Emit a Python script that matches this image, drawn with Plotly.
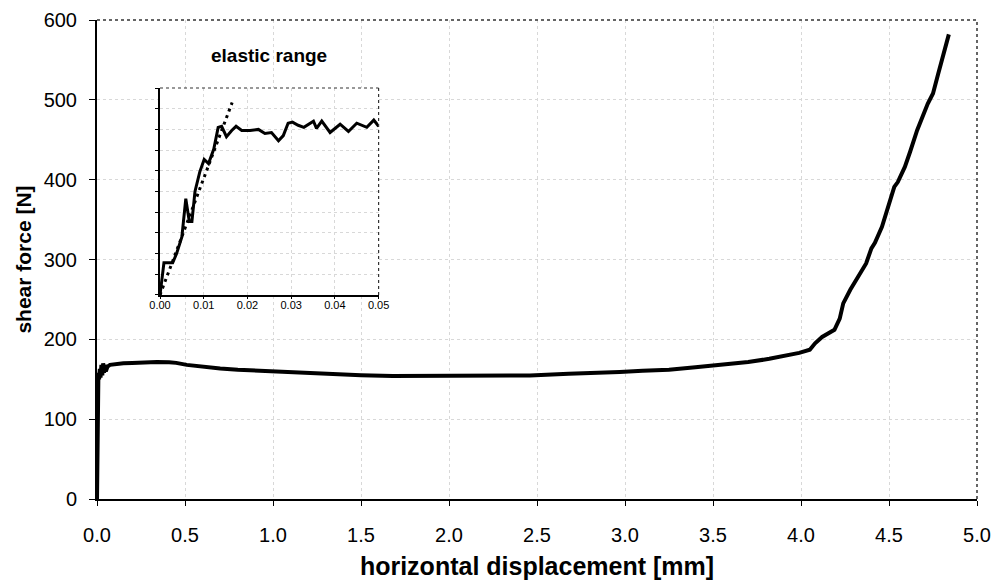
import plotly.graph_objects as go

# Main shear test curve: horizontal displacement [mm] vs shear force [N]
disp_mm = [0, 0.001, 0.003, 0.005, 0.008, 0.012, 0.016, 0.02, 0.025, 0.03, 0.035,
           0.04, 0.045, 0.05, 0.06, 0.074, 0.10, 0.15, 0.20, 0.25, 0.30, 0.34, 0.41,
           0.45, 0.51, 0.62, 0.70, 0.80, 0.90, 1.04, 1.20, 1.32, 1.50, 1.68, 1.90,
           2.08, 2.20, 2.46, 2.68, 2.80, 2.97, 3.10, 3.25, 3.40, 3.54, 3.70, 3.82,
           3.90, 3.99, 4.05, 4.08, 4.12, 4.16, 4.19, 4.22, 4.24, 4.28, 4.33, 4.37,
           4.40, 4.42, 4.46, 4.50, 4.53, 4.55, 4.59, 4.62, 4.66, 4.72, 4.75, 4.78,
           4.81, 4.84]
force_n = [0, 40, 100, 140, 158, 150, 163, 152, 168, 155, 170,
           158, 168, 160, 166, 168, 169, 170, 170.5, 171, 171.3, 171.5, 171.3,
           170.5, 168, 165, 163.5, 162, 161, 159, 157, 155.6, 155, 154, 154,
           154, 154, 154.8, 156.9, 157.5, 159, 160.5, 162, 165, 168, 171.5, 175.6,
           179, 183, 187, 195, 203, 208, 212, 226, 245, 262, 281, 295,
           314, 321, 341, 370, 391, 397, 416, 435, 462, 495, 508, 533,
           558, 582]

# Elastic range detail (inset)
el_disp = [0, 0.0004, 0.0009, 0.0029, 0.0038, 0.005, 0.0059, 0.0067, 0.0073, 0.008,
           0.0091, 0.0101, 0.0111, 0.0123, 0.0133, 0.0141, 0.0152, 0.0164, 0.0174,
           0.0187, 0.0206, 0.0225, 0.024, 0.0255, 0.0271, 0.0282, 0.0293, 0.0303,
           0.0316, 0.0329, 0.0351, 0.0358, 0.037, 0.0389, 0.0412, 0.0431, 0.045,
           0.0473, 0.0489, 0.05]
el_force = [0, 14.5, 31, 31, 40, 56, 93, 71, 71, 100,
            119, 131, 127, 141, 162, 163, 153, 159, 163,
            159, 159, 160, 156, 157, 149, 154, 166, 167,
            164, 162, 168, 161, 168, 157, 165, 158, 166,
            162, 169, 163]

# Linear elastic fit
fit_disp = [0.0, 0.0165]
fit_force = [0.0, 186.0]

x_ticks = [0, 0.5, 1.0, 1.5, 2.0, 2.5, 3.0, 3.5, 4.0, 4.5, 5.0]
y_ticks = [0, 100, 200, 300, 400, 500, 600]
inset_x_ticks = [0, 0.01, 0.02, 0.03, 0.04, 0.05]

FONT = "Liberation Sans, Arial, sans-serif"
inset_xdom = [0.0716, 0.320]
inset_ydom = [0.426, 0.858]
X_MAX, Y_MAX = 5.0, 600

fig = go.Figure()
fig.add_trace(go.Scatter(x=disp_mm, y=force_n, mode="lines",
                         line=dict(color="black", width=4), xaxis="x", yaxis="y",
                         showlegend=False, hoverinfo="skip"))
fig.add_trace(go.Scatter(x=el_disp, y=el_force, mode="lines",
                         line=dict(color="black", width=3), xaxis="x2", yaxis="y2",
                         showlegend=False, hoverinfo="skip"))
fig.add_trace(go.Scatter(x=fit_disp, y=fit_force, mode="lines",
                         line=dict(color="black", width=3, dash="3px,4px"),
                         xaxis="x2", yaxis="y2", showlegend=False, hoverinfo="skip"))

grid = dict(showgrid=True, gridcolor="#d8d8d8", gridwidth=1, griddash="dot", zeroline=False)

fig.update_layout(
    width=994, height=581,
    margin=dict(l=97, r=17, t=19.5, b=81.5),
    paper_bgcolor="white", plot_bgcolor="white",
    font=dict(family=FONT, color="black"),
    xaxis=dict(range=[0, X_MAX], tickvals=x_ticks, ticktext=[f"{v:.1f}" for v in x_ticks],
               ticks="outside", ticklen=5, tickwidth=1, tickcolor="black",
               ticklabelstandoff=12, automargin=False,
               showline=True, linecolor="black", linewidth=2,
               tickfont=dict(size=20), domain=[0, 1],
               title=dict(text="<b>horizontal displacement [mm]</b>", font=dict(size=25), standoff=12),
               **grid),
    yaxis=dict(range=[0, Y_MAX], tickvals=y_ticks,
               ticks="outside", ticklen=6, tickwidth=1, tickcolor="black",
               ticklabelstandoff=8, automargin=False,
               showline=True, linecolor="black", linewidth=2,
               tickfont=dict(size=20), domain=[0, 1],
               title=dict(text="<b>shear force [N]</b>", font=dict(size=21), standoff=6),
               **grid),
    xaxis2=dict(range=[0, 0.05], tickvals=inset_x_ticks,
                ticktext=[f"{v:.2f}" for v in inset_x_ticks],
                ticks="outside", ticklen=2, tickwidth=1, tickcolor="black",
                ticklabelstandoff=-3,
                showline=True, linecolor="black", linewidth=1.5, automargin=False,
                tickfont=dict(size=11), domain=inset_xdom, anchor="y2", **grid),
    yaxis2=dict(range=[0, 200], dtick=20, showticklabels=False,
                ticks="outside", ticklen=3, tickwidth=1, tickcolor="black",
                showline=True, linecolor="black", linewidth=1.5, automargin=False,
                domain=inset_ydom, anchor="x2", **grid),
    annotations=[dict(text="<b>elastic range</b>", xref="paper", yref="paper",
                      x=(inset_xdom[0] + inset_xdom[1]) / 2, y=0.926,
                      xanchor="center", yanchor="middle",
                      showarrow=False, font=dict(size=19, family=FONT))],
)

shapes = [
    # white backing behind the inset so main gridlines stop at its frame
    dict(type="rect", xref="x", yref="y", layer="between",
         x0=inset_xdom[0] * X_MAX, x1=inset_xdom[1] * X_MAX,
         y0=inset_ydom[0] * Y_MAX, y1=inset_ydom[1] * Y_MAX,
         fillcolor="white", line=dict(width=0)),
    # dotted top and right frame of the main plot
    dict(type="line", xref="paper", yref="paper", x0=0, x1=1, y0=1, y1=1,
         line=dict(color="#333", width=1.5, dash="dot")),
    dict(type="line", xref="paper", yref="paper", x0=1, x1=1, y0=0, y1=1,
         line=dict(color="#333", width=1.5, dash="dot")),
    # dotted top and right frame of the inset
    dict(type="line", xref="paper", yref="paper", x0=inset_xdom[0], x1=inset_xdom[1],
         y0=inset_ydom[1], y1=inset_ydom[1], line=dict(color="#333", width=1.2, dash="dot")),
    dict(type="line", xref="paper", yref="paper", x0=inset_xdom[1], x1=inset_xdom[1],
         y0=inset_ydom[0], y1=inset_ydom[1], line=dict(color="#333", width=1.2, dash="dot")),
]
fig.update_layout(shapes=shapes)

fig.write_html("out.html")
